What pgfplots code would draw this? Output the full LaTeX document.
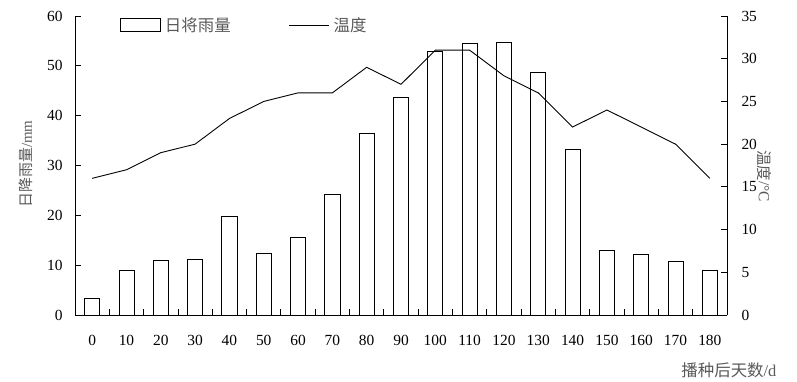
\documentclass[border=0pt]{standalone}
\usepackage{fontspec}
\setmainfont{Liberation Serif}
\newfontfamily\cjk{Noto Sans CJK SC}
\usepackage{pgfplots}
\usepackage{pgfplotstable}
\pgfplotsset{compat=1.18}
\definecolor{lab}{rgb}{0.35,0.35,0.35}

\pgfplotstableread{
x rain temp
0 3.4 16
1 8.9 17
2 11.0 19
3 11.2 20
4 19.7 23
5 12.4 25
6 15.5 26
7 24.3 26
8 36.5 29
9 43.7 27
10 52.8 31
11 54.6 31
12 54.8 28
13 48.6 26
14 33.3 22
15 13.0 24
16 12.2 22
17 10.7 20
18 8.9 16
}\data

\pgfplotsset{
  base/.style={
    scale only axis, width=652bp, height=299bp,
    xmin=-0.5, xmax=18.5,
    axis line style={line width=0.8bp, black},
    every tick/.style={black, line width=0.8bp},
    major tick length=6bp,
    tick align=inside,
    tick label style={font=\fontsize{15.5}{18}\selectfont, black},
    /pgf/number format/assume math mode=true,
  }
}

\begin{document}
\begin{tikzpicture}
\useasboundingbox (-75bp,-67bp) rectangle (722bp,315bp);
\begin{axis}[base,
  axis x line*=bottom, axis y line*=left,
  ymin=0, ymax=60, ytick={0,10,...,60},
  yticklabel style={xshift=-9bp},
  xtick={0.5,1.5,...,17.5}, xticklabels={},
  extra x ticks={0,1,...,18},
  extra x tick labels={0,10,20,30,40,50,60,70,80,90,100,110,120,130,140,150,160,170,180},
  extra x tick style={major tick length=0pt, xticklabel style={yshift=-17bp}},
  ylabel={\cjk 日降雨量\rmfamily/mm},
  ylabel style={at={(axis description cs:-0.075,0.505)}, anchor=center, font=\fontsize{15}{18}\selectfont, color=lab},
  xlabel={\cjk 播种后天数\rmfamily/d},
  xlabel style={at={(axis description cs:1.003,-0.184)}, anchor=center, font=\fontsize{16.5}{19}\selectfont, color=lab},
]
\addplot[ybar, bar width=0.44, draw=black, fill=white, line width=0.8bp] table[x=x, y=rain] {\data};
\end{axis}
\begin{axis}[base,
  axis x line=none, axis y line*=right,
  ymin=0, ymax=35, ytick={0,5,...,35},
  yticklabel style={xshift=11bp},
  ylabel={\cjk 温度\rmfamily/°C},
  ylabel style={at={(axis description cs:1.058,0.465)}, anchor=center, rotate=180, font=\fontsize{15.5}{18}\selectfont, color=lab},
  legend columns=2,
  legend style={at={(axis description cs:0.069,0.97)}, anchor=west, draw=none, fill=none, inner sep=0pt,
    font=\fontsize{16.5}{19}\selectfont, text=lab,
    /tikz/every even column/.append style={column sep=56bp},
    /tikz/every odd column/.append style={column sep=2bp}},
]
\addlegendimage{legend image code/.code={\draw[black, fill=white, line width=0.8bp] (0bp,-6.5bp) rectangle (40bp,6.5bp);}}
\addlegendentry{\cjk 日将雨量}
\addplot[black, line width=0.9bp, legend image code/.code={\draw[black, line width=0.9bp] (0bp,0bp) -- (40bp,0bp);}] table[x=x, y=temp] {\data};
\addlegendentry{\cjk 温度}
\end{axis}
\end{tikzpicture}
\end{document}
